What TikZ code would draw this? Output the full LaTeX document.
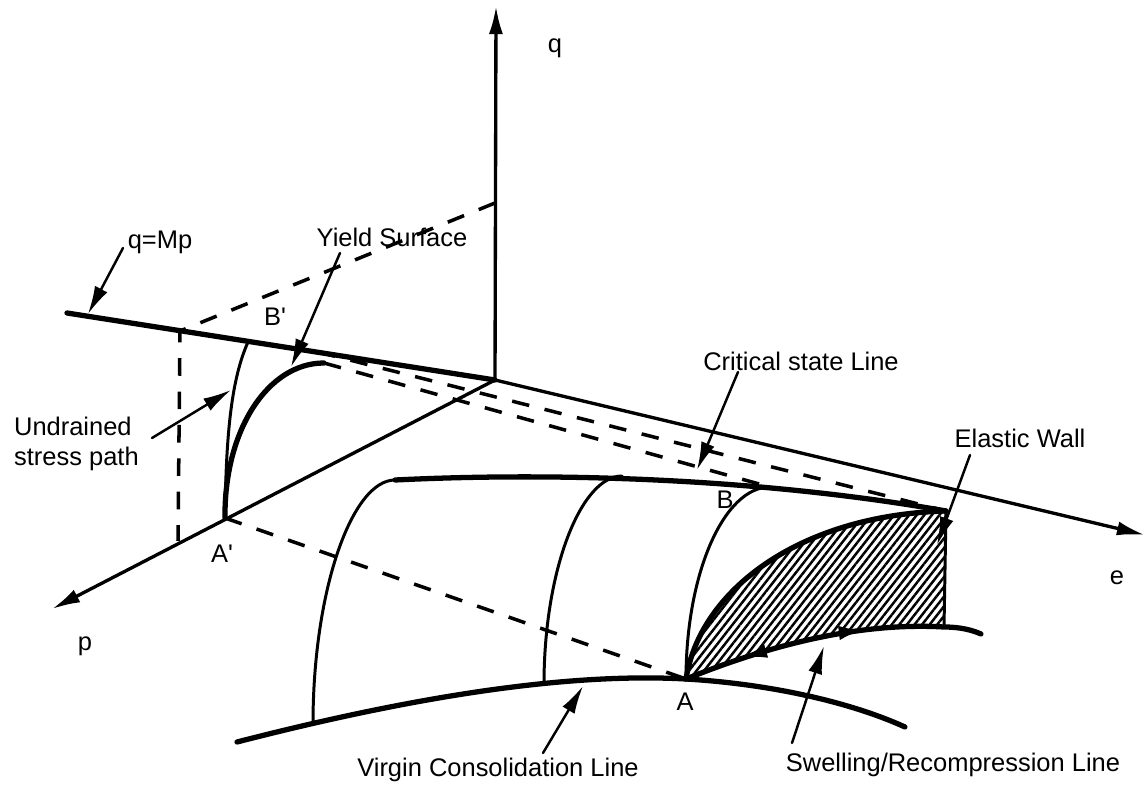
\documentclass[tikz,border=0pt]{standalone}
\usepackage{fontspec}
\setmainfont{Liberation Sans}
\usetikzlibrary{arrows.meta, patterns.meta, decorations.markings}

\begin{document}
\begin{tikzpicture}[x=0.02cm, y=-0.02cm, line join=round, line cap=round,
    thinpath/.style={line width=1.7pt},
    thickpath/.style={line width=3pt},
    axis/.style={line width=1.9pt, -{Latex[length=16pt,width=8pt]}},
    dashline/.style={line width=2pt, line cap=butt, dash pattern=on 10pt off 9pt},
    lbl/.style={line width=1.4pt, -{Latex[length=16pt,width=8pt]}},
    every node/.style={font=\fontsize{14.5}{17}\selectfont, inner sep=1pt}]
    \useasboundingbox (0,0) rectangle (1148,786);

    % axes and corner points
    \coordinate (O) at (495,380);
    \coordinate (qtip) at (496,6);
    \coordinate (etip) at (1145,535);
    \coordinate (ptip) at (52,609);
    \coordinate (Mp) at (67,313);
    \coordinate (Ap) at (225,518);
    \coordinate (A) at (686,679);
    \coordinate (B) at (770,487);
    \coordinate (Bp) at (318,352);
    \coordinate (Ys) at (324,363);
    \coordinate (U) at (248,342);
    \coordinate (W) at (946,511);
    \coordinate (Wb) at (944,627);
    \coordinate (sw) at (981,634);
    \coordinate (qk) at (495,203);
    \coordinate (Mk) at (180,331);
    \coordinate (pk) at (178,541);
    \coordinate (c1) at (395,480);
    \coordinate (c2) at (622,476);
    \coordinate (v0) at (237,742);
    \coordinate (v1) at (313,724);
    \coordinate (v2) at (544,684);
    \coordinate (v3) at (905,727);

    % elastic wall
    \fill[pattern={Lines[angle=52,distance=3.4pt,line width=1.4pt]}]
        (A) .. controls (700,590) and (800,515) .. (W) -- (Wb)
        .. controls (860,622) and (770,645) .. (A) -- cycle;
    \draw[thinpath] (W) -- (Wb);
    \draw[thickpath] (A) .. controls (700,590) and (800,515) .. (W);

    \draw[axis] (O) -- (qtip);
    \draw[axis] (O) -- (etip);
    \draw[axis] (O) -- (ptip);
    \draw[thickpath] (Mp) -- (O);

    \draw[dashline] (qk) -- (Mk) -- (pk);
    \draw[dashline] (Ap) -- (A);
    \draw[dashline] (Ys) -- (B);
    \draw[dashline] (Bp) -- (W);

    % state boundary surface
    \draw[thickpath] (c1) .. controls (600,470) and (800,485) .. (W);
    \draw[thinpath] (c1) .. controls (352,480) and (313,590) .. (v1);
    \draw[thinpath] (c2) .. controls (581,476) and (544,570) .. (v2);
    \draw[thinpath] (B) .. controls (724,487) and (686,573) .. (A);
    \draw[thinpath] (Ap) .. controls (226,430) and (232,378) .. (U);
    \draw[thickpath] (Ap) .. controls (224,430) and (268,363) .. (Ys);

    \draw[thickpath] (v0) .. controls (400,700) and (560,672) .. (A)
        .. controls (770,684) and (850,702) .. (v3);
    \draw[thickpath, postaction={decorate}, decoration={markings,
        mark=at position 0.28 with {\arrow{Latex[reversed,length=16pt,width=8pt]}},
        mark=at position 0.62 with {\arrow{Latex[length=16pt,width=8pt]}}}]
        (A) .. controls (770,645) and (860,622) .. (Wb)
        .. controls (960,627) and (972,630) .. (sw);

    % labels
    \node (lq) at (555,48) {q};
    \node (le) at (1117,578) {e};
    \node (lp) at (85,646) {p};
    \node (lMp) at (160,242) {q=Mp};
    \node (lys) at (392,237) {Yield Surface};
    \node (lBp) at (275,317) {B\textquotesingle};
    \node[align=left, anchor=west] (lud) at (12,444) {Undrained\\stress path};
    \node (lcs) at (801,361) {Critical state Line};
    \node (lew) at (1020,438) {Elastic Wall};
    \node (lB) at (725,500) {B};
    \node (lA) at (685,702) {A};
    \node (lAp) at (222,554) {A\textquotesingle};
    \node (lvcl) at (498,770) {Virgin Consolidation Line};
    \node (lsw) at (953,765) {Swelling/Recompression Line};

    % pointers
    \coordinate (tMp) at (123,248);
    \coordinate (hMp) at (88,314);
    \coordinate (tys) at (340,253);
    \coordinate (hys) at (291,367);
    \coordinate (tud) at (152,438);
    \coordinate (hud) at (231,390);
    \coordinate (tcs) at (738,372);
    \coordinate (hcs) at (697,470);
    \coordinate (tew) at (970,455);
    \coordinate (hew) at (937,545);
    \coordinate (tvcl) at (543,753);
    \coordinate (hvcl) at (583,686);
    \coordinate (tsw) at (792,743);
    \coordinate (hsw) at (824,646);
    \draw[lbl] (tMp) -- (hMp);
    \draw[lbl] (tys) -- (hys);
    \draw[lbl] (tud) -- (hud);
    \draw[lbl] (tcs) -- (hcs);
    \draw[lbl] (tew) -- (hew);
    \draw[lbl] (tvcl) -- (hvcl);
    \draw[lbl] (tsw) -- (hsw);
\end{tikzpicture}
\end{document}
